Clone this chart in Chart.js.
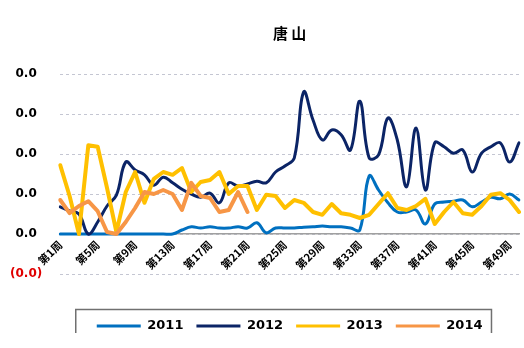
<!DOCTYPE html>
<html>
<head>
<meta charset="utf-8">
<script src="https://cdn.jsdelivr.net/npm/chart.js@4/dist/chart.umd.min.js"></script>
<style>
  html, body { margin: 0; padding: 0; background: #ffffff; }
  #wrap { width: 524px; height: 333px; overflow: hidden; background: #ffffff; }
  canvas { display: block; }
</style>
</head>
<body>
<div id="wrap"><canvas id="c" width="524" height="345"></canvas></div>
<script>
const weeks = ['第1周','第2周','第3周','第4周','第5周','第6周','第7周','第8周','第9周','第10周',
  '第11周','第12周','第13周','第14周','第15周','第16周','第17周','第18周','第19周','第20周',
  '第21周','第22周','第23周','第24周','第25周','第26周','第27周','第28周','第29周','第30周',
  '第31周','第32周','第33周','第34周','第35周','第36周','第37周','第38周','第39周','第40周',
  '第41周','第42周','第43周','第44周','第45周','第46周','第47周','第48周','第49周','第50周'];

const seriesNames = ['2011', '2012', '2013', '2014'];

const s2011 = [0,0,0,0,0,0,0,0,0,0,
  0,0,0,0.1,0.18,0.15,0.18,0.15,0.15,0.18,
  0.15,0.28,0.03,0.15,0.15,0.15,0.17,0.18,0.2,0.18,
  0.18,0.15,0.1,1.45,1.1,0.78,0.55,0.55,0.6,0.25,
  0.75,0.8,0.82,0.85,0.68,0.8,0.92,0.88,1.0,0.85];

const s2012 = [0.68,0.58,0.5,0.0,0.3,0.7,0.97,1.8,1.6,1.48,
  1.22,1.42,1.28,1.12,1.0,0.92,1.02,0.78,1.28,1.2,
  1.25,1.32,1.28,1.55,1.7,1.9,3.55,2.85,2.35,2.6,
  2.48,2.1,3.32,1.9,1.98,2.9,2.35,1.18,2.65,1.1,
  2.28,2.18,2.02,2.1,1.55,2.02,2.18,2.28,1.8,2.28];

const s2013 = [1.72,0.95,0.0,2.22,2.18,1.15,0.05,1.05,1.55,0.78,
  1.38,1.55,1.48,1.65,1.05,1.3,1.35,1.55,1.0,1.2,
  1.2,0.6,0.98,0.95,0.65,0.85,0.78,0.55,0.48,0.75,
  0.52,0.48,0.4,0.48,0.75,1.02,0.65,0.6,0.7,0.88,
  0.25,0.55,0.8,0.52,0.48,0.7,0.98,1.02,0.85,0.55];

const s2014 = [0.85,0.52,0.7,0.82,0.57,0.05,0.0,0.3,0.65,1.05,
  1.0,1.1,1.0,0.6,1.28,0.95,0.9,0.55,0.6,1.05,0.55];

const yTickValues = [-1, 0, 1, 2, 3, 4];
const yTickLabels = ['(0.0)', '0.0', '0.0', '0.0', '0.0', '0.0'];

const colors = ['#0070C0', '#0B2466', '#FFC000', '#F79646'];

const legendFrame = {
  id: 'legendFrame',
  afterDraw(chart, args, opts) {
    const lg = chart.legend;
    if (!lg || !lg.legendHitBoxes || !lg.legendHitBoxes.length) return;
    const hb = lg.legendHitBoxes;
    const first = hb[0], last = hb[hb.length - 1];
    const left = first.left - opts.padLeft;
    const right = last.left + last.width + opts.padRight;
    const top = first.top - opts.padTop;
    const bottom = chart.height + 10;
    const ctx = chart.ctx;
    ctx.save();
    ctx.strokeStyle = opts.color;
    ctx.lineWidth = opts.lineWidth;
    ctx.strokeRect(left, top, right - left, bottom - top);
    ctx.restore();
  }
};

const ds = (label, data, color, width, tension, order) => ({
  label, data,
  borderColor: color, backgroundColor: color,
  borderWidth: width, tension, order,
  pointRadius: 0, pointHoverRadius: 0,
  fill: false, borderCapStyle: 'round', borderJoinStyle: 'round'
});

new Chart(document.getElementById('c'), {
  type: 'line',
  data: {
    labels: weeks,
    datasets: [
      ds(seriesNames[0], s2011, colors[0], 3, 0.4, 4),
      ds(seriesNames[1], s2012, colors[1], 3, 0.4, 3),
      ds(seriesNames[2], s2013, colors[2], 4, 0, 2),
      ds(seriesNames[3], s2014, colors[3], 4, 0, 1)
    ]
  },
  options: {
    responsive: false,
    devicePixelRatio: 1,
    animation: false,
    layout: { padding: { left: 10, right: 5, top: 0, bottom: 2.5 } },
    scales: {
      x: {
        type: 'category',
        position: { y: 0 },
        afterFit: (s) => { s.paddingLeft = 0; s.paddingRight = 0; },
        grid: { display: false, drawTicks: false },
        border: { display: true, color: '#a0a0a0', width: 1.5 },
        ticks: {
          autoSkip: false,
          minRotation: 45, maxRotation: 45,
          padding: 4,
          color: '#000000',
          font: { family: 'Noto Sans CJK SC', size: 11, weight: 'bold' },
          callback: function(value, index) { return index % 4 === 0 ? this.getLabelForValue(value) : ''; }
        }
      },
      y: {
        min: -1, max: 4,
        afterBuildTicks: (scale) => { scale.ticks = yTickValues.map(v => ({ value: v })); },
        afterFit: (s) => { s.width = s.width - s.options.ticks.padding; },
        grid: { color: '#c4c6d2', lineWidth: 1, drawTicks: false },
        border: { display: false, dash: [3, 3] },
        ticks: {
          padding: 18,
          crossAlign: 'center',
          font: { family: 'DejaVu Sans', size: 12, weight: 'bold' },
          color: (c) => (c.tick && c.tick.value < 0) ? '#E00000' : '#000000',
          callback: (value) => yTickLabels[yTickValues.indexOf(value)]
        }
      }
    },
    plugins: {
      title: {
        display: true,
        text: '唐 山',
        fullSize: false,
        color: '#000000',
        font: { family: 'Noto Sans CJK SC', size: 15, weight: 'bold' },
        padding: { top: 24, bottom: 32 }
      },
      legend: {
        display: true,
        position: 'bottom',
        fullSize: false,
        title: { display: true, text: ' ', font: { size: 10, lineHeight: 1 }, padding: { top: 22.5, bottom: 0 } },
        labels: {
          boxWidth: 44, boxHeight: 3, padding: 13,
          color: '#000000',
          font: { family: 'DejaVu Sans', size: 13, weight: 'bold' },
          sort: (a, b) => a.datasetIndex - b.datasetIndex,
          generateLabels: (chart) => {
            const items = Chart.defaults.plugins.legend.labels.generateLabels(chart);
            items.forEach(it => { it.lineWidth = 0; it.fillStyle = it.strokeStyle; });
            return items;
          }
        }
      },
      legendFrame: { padLeft: 21, padRight: 9, padTop: 10, color: '#707070', lineWidth: 1.5 },
      tooltip: { enabled: false }
    }
  },
  plugins: [legendFrame]
});
</script>
</body>
</html>
